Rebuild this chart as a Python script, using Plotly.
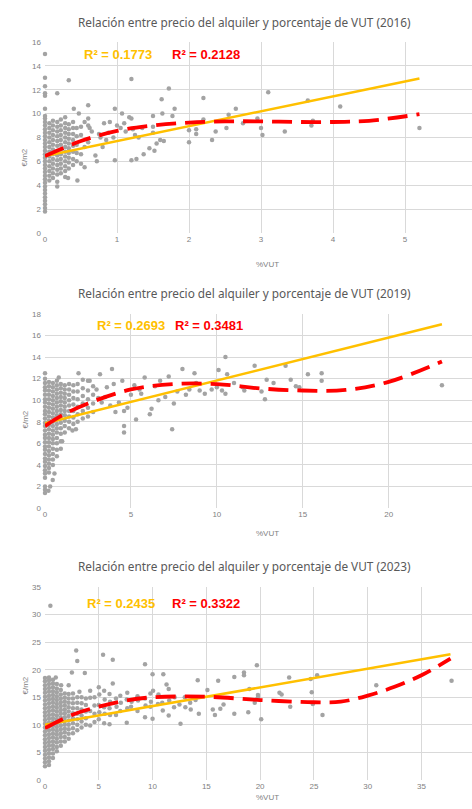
import plotly.graph_objects as go

W, H = 472, 809

# ---------------- data ----------------
titles = ["Relación entre precio del alquiler y porcentaje de VUT (2016)",
          "Relación entre precio del alquiler y porcentaje de VUT (2019)",
          "Relación entre precio del alquiler y porcentaje de VUT (2023)"]
r2_linear = ["0.1773", "0.2693", "0.2435"]
r2_poly = ["0.2128", "0.3481", "0.3322"]

# dense clusters near x = 0, read as columns (x, [y values])
cluster_2016 = [
    (0.0, [1.8,2.1,2.4,2.7,3.0,3.3,3.6,3.9,4.2,4.5,4.8,5.1,5.4,5.7,6.0,6.3,6.6,6.9,7.2,7.5,7.8,
           8.1,8.4,8.7,9.0,9.3,9.6,9.8,10.4,11.5,11.7,12.3,13.0,15.0]),
    (0.06, [4.4,4.8,5.2,5.6,6.0,6.4,6.8,7.2,7.6,8.0,8.4,8.8,9.2]),
    (0.11, [4.6,5.0,5.4,5.8,6.2,6.6,7.0,7.4,7.8,8.2,8.6,9.0,9.4]),
    (0.17, [3.9,4.3,4.9,5.3,5.7,6.1,6.5,6.9,7.3,7.7,8.1,8.5,8.9,9.3]),
    (0.22, [5.0,5.4,5.8,6.2,6.6,7.0,7.4,7.8,8.2,8.6,9.0,9.5]),
    (0.28, [4.7,5.2,5.6,6.0,6.4,6.8,7.2,7.6,8.0,8.4,8.8,9.2,9.7]),
    (0.33, [5.4,5.9,6.3,6.7,7.1,7.5,7.9,8.3,8.7,9.1]),
    (0.39, [5.7,6.2,6.8,7.3,7.8,8.3,8.8,9.3]),
    (0.44, [6.0,6.7,7.4,8.1,8.8]),
]
pts_2016 = [
    (0.5,8.9),(0.5,8.2),(0.5,6.6),(0.5,5.8),(0.55,5.5),(0.55,9.3),(0.6,9.6),(0.6,9.0),
    (0.6,7.6),(0.65,8.5),(0.7,6.5),(0.72,6.0),(0.75,8.3),(0.8,7.2),(0.85,7.8),(0.82,9.2),
    (0.9,9.3),(0.95,8.0),(0.77,8.0),(0.62,8.8),(0.55,7.2),(0.45,4.4),(0.32,4.6),
    (0.17,11.7),(0.33,12.8),(0.4,10.4),(0.47,10.0),(0.6,10.7),(1.2,12.9),(0.97,10.4),
    (1.07,10.0),(1.17,9.7),(1.2,9.6),(1.62,11.2),(1.72,12.1),(1.8,10.4),(1.77,9.8),
    (1.5,9.8),(1.63,10.0),(2.2,11.3),(2.65,10.4),(2.55,9.9),(2.0,8.6),(2.0,7.6),
    (2.1,8.3),(2.1,8.7),(2.2,9.5),(2.32,7.8),(2.37,8.5),(2.52,8.8),(2.75,9.2),(2.95,9.6),
    (3.0,8.8),(3.02,8.2),(3.1,11.8),(3.33,8.5),(3.65,11.1),(3.7,9.0),(3.72,9.4),
    (4.1,10.6),(5.2,8.8),(1.37,6.6),(1.45,7.1),(1.52,6.9),(1.27,6.2),(1.2,6.1),(0.97,6.1),
    (1.55,7.5),(1.6,7.8),(1.65,7.7),(1.0,9.0),(1.05,8.8),(1.12,8.5),(1.22,8.7),(1.25,8.2),
    (1.3,8.0),(1.5,8.4),(1.5,8.9),(1.35,8.8),(1.1,9.2),(0.88,8.4),
]

cluster_2019 = [
    (0.0, [1.4,1.7,2.0,2.8,3.2,3.5,3.9,4.3,4.6,5.0,5.4,5.7,6.1,6.5,6.8,7.2,7.6,7.9,8.3,8.7,9.0,
           9.4,9.8,10.1,10.5,10.9,11.2,11.6,12.0,12.5]),
    (0.23, [3.3,3.7,4.1,4.5,4.9,5.3,5.7,6.1,6.5,6.9,7.3,7.7,8.1,8.5,8.9,9.3,9.7,10.1,10.5,10.9,
            11.3,11.7]),
    (0.46, [4.0,4.5,5.0,5.5,6.0,6.4,6.8,7.2,7.6,8.0,8.4,8.8,9.2,9.6,10.0,10.4,10.8,11.2,11.6]),
    (0.69, [4.8,5.4,6.0,6.5,7.0,7.4,7.8,8.2,8.6,9.0,9.4,9.8,10.2,10.6,11.0,11.4,11.8]),
    (0.92, [5.5,6.2,6.9,7.4,7.9,8.3,8.7,9.1,9.5,9.9,10.3,10.7,11.1,11.5]),
    (1.15, [7.0,7.6,8.1,8.6,9.0,9.4,9.8,10.2,10.6,11.0,11.4]),
    (1.4, [7.4,8.0,8.5,9.0,9.5,10.0,10.5,11.0,11.5]),
    (1.65, [7.8,8.4,9.0,9.6,10.2,10.8,11.4]),
    (1.9, [8.0,8.7,9.4,10.1,10.8,11.5]),
    (2.2, [8.3,9.0,9.7,10.4,11.1]),
    (2.5, [8.5,9.3,10.1,10.9]),
    (2.8, [8.9,9.7,10.5,11.3]),
]
pts_2019 = [
    (0.2,1.6),(0.3,2.0),(0.45,2.6),(0.55,3.2),(0.8,12.1),(1.0,6.2),
    (1.95,12.5),(3.2,12.4),(3.9,12.9),(4.6,7.6),(4.6,7.0),(5.3,8.2),(5.8,12.1),(6.1,8.7),
    (6.2,9.2),(7.4,7.3),(7.5,9.7),(8.0,12.9),(8.7,12.5),(9.3,10.6),(10.1,12.8),(10.5,14.0),
    (10.6,12.4),(10.5,10.6),(12.2,13.2),(12.8,10.1),(12.9,11.9),(13.3,11.6),(14.0,13.2),
    (14.3,11.9),(14.6,11.3),(14.8,11.2),(15.3,12.4),(16.1,12.5),(16.1,11.8),(23.1,11.4),
    (9.0,10.9),(8.8,11.6),(9.7,11.0),(10.0,11.2),(10.3,10.9),(11.5,11.2),(11.6,10.9),
    (12.6,10.8),(11.0,11.6),(6.7,11.8),(7.2,12.2),(7.0,10.3),(6.6,10.0),(7.7,10.8),
    (8.2,10.5),(8.4,11.0),(5.5,11.0),(5.2,11.4),(5.0,10.5),(4.8,9.3),(4.6,9.0),(4.3,9.8),
    (4.1,8.9),(3.8,9.5),(3.5,10.3),(3.3,9.8),(3.0,11.0),(3.1,10.2),(2.5,11.8),(2.2,11.9),
    (1.8,7.3),(1.6,7.2),(4.0,11.5),(4.5,11.8),(5.6,10.6),(6.4,11.3),(3.6,11.2),(2.6,11.8),
]

cluster_2023 = [
    (0.0, [2.5,3.2,3.9,4.6,5.3,6.0,6.7,7.4,8.1,8.8,9.5,10.2,10.9,11.6,12.3,13.0,13.7,14.4,15.1,
           15.8,16.5,17.2,17.9,18.5]),
    (0.37, [2.7,3.4,4.1,4.8,5.5,6.2,6.9,7.6,8.3,9.0,9.7,10.4,11.1,11.8,12.5,13.2,13.9,14.6,
            15.3,16.0,16.7,17.4,18.1,18.6]),
    (0.74, [4.0,4.8,5.6,6.3,7.0,7.7,8.4,9.1,9.8,10.5,11.2,11.9,12.6,13.3,14.0,14.7,15.4,16.1,
            16.8,17.5,18.2]),
    (1.1, [5.2,6.0,6.8,7.5,8.2,8.9,9.6,10.3,11.0,11.7,12.4,13.1,13.8,14.5,15.2,15.9,16.6,17.4]),
    (1.47, [6.2,7.0,7.8,8.5,9.2,9.9,10.6,11.3,12.0,12.7,13.4,14.1,14.8,15.5,16.3]),
    (1.84, [7.0,7.8,8.6,9.3,10.0,10.7,11.4,12.1,12.8,13.5,14.2,14.9,15.7]),
    (2.2, [7.5,8.4,9.2,10.0,10.8,11.6,12.4,13.2,14.0,14.8,15.6]),
    (2.6, [8.5,9.4,10.3,11.2,12.1,13.0,13.9,14.8,15.7]),
    (3.0, [9.0,10.0,11.0,12.0,13.0,14.0,15.0]),
    (3.4, [9.5,10.6,11.7,12.8,13.9,15.0]),
    (3.8, [10.0,11.2,12.4,13.6,14.8]),
]
pts_2023 = [
    (4.2,9.9),(4.2,12.5),(4.2,14.9),(4.2,16.2),(4.6,10.5),(4.6,12.0),(4.6,13.5),(4.6,15.0),
    (5.0,11.0),(5.05,12.3),(5.0,13.6),(5.05,15.5),(5.0,16.8),
    (5.5,10.3),(5.55,12.0),(5.5,13.2),(5.55,14.6),(5.5,16.2),
    (6.0,10.1),(6.05,11.8),(6.0,13.0),(6.05,14.2),(6.0,15.6),(6.3,17.5),
    (6.6,11.8),(6.65,13.3),(6.6,14.8),(7.0,12.5),(7.05,14.0),(7.0,15.3),
    (7.6,10.4),(7.65,13.0),(7.6,14.6),(7.65,15.8),(8.0,13.3),(8.05,14.2),
    (8.6,12.5),(8.65,14.4),(8.6,15.2),(9.3,11.4),(9.35,13.5),(9.3,14.8),
    (9.8,13.3),(9.85,14.2),(9.8,15.7),(10.0,11.1),(10.05,16.2),(10.5,13.8),(10.55,15.5),
    (10.9,14.0),(10.95,12.6),(11.5,11.7),(11.55,14.4),(11.5,16.5),(12.0,13.2),(12.05,15.0),
    (12.5,13.7),(13.0,15.0),(13.05,13.2),(13.5,14.0),(13.55,12.8),(14.0,14.5),
    (0.5,31.6),(2.9,23.5),(3.0,21.6),(2.5,19.5),(3.7,19.4),(5.4,22.7),(6.3,21.8),(9.3,21.0),
    (10.0,19.2),(11.0,19.2),(11.3,17.3),(12.6,10.2),(14.2,18.1),(14.3,12.0),(15.1,16.3),
    (16.1,18.0),(15.6,12.8),(15.8,11.8),(16.3,12.9),(16.6,13.7),(17.6,18.7),(17.6,12.0),
    (18.5,19.5),(18.5,19.0),(18.9,12.3),(19.0,16.5),(19.7,20.8),(19.5,14.0),(19.8,15.4),
    (19.8,15.0),(20.1,11.0),(21.8,15.8),(22.0,15.5),(22.7,18.6),(22.8,13.3),(24.7,18.3),
    (24.8,15.9),(24.9,13.8),(25.3,19.0),(25.8,11.8),(30.8,17.2),(37.8,18.0),
    (2.2,17.2),(1.0,18.6),(3.2,16.0),(1.5,17.2),
]

# linear trend endpoints and polynomial trend points
lin_2016_x = [0, 5.2];   lin_2016_y = [6.45, 12.95]
pol_2016_x = [0, 0.5, 1.0, 1.5, 2.0, 2.5, 3.0, 3.5, 4.0, 4.5, 5.2]
pol_2016_y = [6.45, 7.7, 8.55, 9.0, 9.25, 9.35, 9.35, 9.3, 9.3, 9.4, 9.95]

lin_2019_x = [0, 23.1];  lin_2019_y = [7.85, 17.05]
pol_2019_x = [0, 1, 2.5, 5, 7.5, 10, 12.5, 15, 17.5, 20, 23.1]
pol_2019_y = [7.6, 8.6, 9.7, 11.0, 11.5, 11.5, 11.1, 10.9, 10.95, 11.7, 13.6]

lin_2023_x = [0, 37.7];  lin_2023_y = [10.0, 22.8]
pol_2023_x = [0, 2.5, 5, 7.5, 10, 15, 20, 25, 27.5, 30, 32.5, 35, 37.7]
pol_2023_y = [9.4, 11.8, 13.3, 14.4, 15.0, 15.1, 14.5, 14.1, 14.2, 15.3, 16.9, 19.0, 22.0]

x_ranges = [[0, 5.93], [0, 24.85], [0, 39.7]]
y_ranges = [[0, 16], [0, 18], [0, 35]]
x_dticks = [1, 5, 5]
y_dticks = [2, 2, 5]

# ---------------- layout geometry (pixels) ----------------
plot_left = 45
plot_tops = [42, 314, 587]
plot_bottoms = [233, 508, 780]
title_y = [22, 293, 566]
r2_y = [54, 325, 603]
r2_lin_x = [82, 95, 85]
r2_pol_x = [170, 173, 170]
ytitle_y = [147, 420, 697]
xtitle_y = [258, 533, 804]

def fx(px): return px / W
def fy(py): return 1 - py / H

GRAY_PT = "#a3a3a3"
YEL = "#FFC000"
RED = "#FF0000"
GRID = "#d9d9d9"
TXT = "#7f7f7f"

def flatten(cluster, pts):
    xs, ys = [], []
    for cx, cys in cluster:
        for v in cys:
            xs.append(cx); ys.append(v)
    for px_, py_ in pts:
        xs.append(px_); ys.append(py_)
    return xs, ys

fig = go.Figure()
data_sets = [
    (cluster_2016, pts_2016, lin_2016_x, lin_2016_y, pol_2016_x, pol_2016_y),
    (cluster_2019, pts_2019, lin_2019_x, lin_2019_y, pol_2019_x, pol_2019_y),
    (cluster_2023, pts_2023, lin_2023_x, lin_2023_y, pol_2023_x, pol_2023_y),
]
annotations = []
for i, (cl, pts, lx, ly, qx, qy) in enumerate(data_sets):
    xa = "x" if i == 0 else f"x{i+1}"
    ya = "y" if i == 0 else f"y{i+1}"
    sx, sy = flatten(cl, pts)
    fig.add_trace(go.Scatter(x=sx, y=sy, mode="markers",
                             marker=dict(color=GRAY_PT, size=4.5), xaxis=xa, yaxis=ya,
                             showlegend=False, cliponaxis=False))
    fig.add_trace(go.Scatter(x=lx, y=ly, mode="lines", line=dict(color=YEL, width=2.5),
                             xaxis=xa, yaxis=ya, showlegend=False))
    fig.add_trace(go.Scatter(x=qx, y=qy, mode="lines", line=dict(color=RED, width=3.8,
                             dash="20px,9px", shape="spline", smoothing=1.0),
                             xaxis=xa, yaxis=ya, showlegend=False))
    axis_common = dict(showgrid=True, gridcolor=GRID, gridwidth=1, zeroline=False,
                       showline=False, ticks="", automargin=False,
                       tickfont=dict(size=8, color=TXT, family="Liberation Sans"))
    fig.layout[("xaxis" if i == 0 else f"xaxis{i+1}")] = dict(
        domain=[fx(plot_left), 1], anchor=ya, range=x_ranges[i], dtick=x_dticks[i],
        tick0=0, **axis_common)
    fig.layout[("yaxis" if i == 0 else f"yaxis{i+1}")] = dict(
        domain=[fy(plot_bottoms[i]), fy(plot_tops[i])], anchor=xa, range=y_ranges[i],
        dtick=y_dticks[i], tick0=0, ticklabelstandoff=3, **axis_common)
    annotations.append(dict(text=titles[i], x=fx(245), y=fy(title_y[i]), xref="paper",
                            yref="paper", showarrow=False, xanchor="center", yanchor="middle",
                            font=dict(size=11.8, color="#595959", family="Noto Sans")))
    annotations.append(dict(text=f"<b>R² = {r2_linear[i]}</b>", x=fx(r2_lin_x[i]),
                            y=fy(r2_y[i]), xref="paper", yref="paper", showarrow=False,
                            xanchor="left", yanchor="middle",
                            font=dict(size=13, color=YEL, family="Liberation Sans")))
    annotations.append(dict(text=f"<b>R² = {r2_poly[i]}</b>", x=fx(r2_pol_x[i]),
                            y=fy(r2_y[i]), xref="paper", yref="paper", showarrow=False,
                            xanchor="left", yanchor="middle",
                            font=dict(size=13, color=RED, family="Liberation Sans")))
    annotations.append(dict(text="€/m2", x=fx(18), y=fy(ytitle_y[i]), xref="paper",
                            yref="paper", showarrow=False, textangle=-90,
                            font=dict(size=8, color=TXT, family="Liberation Sans")))
    annotations.append(dict(text="%VUT", x=fx(267), y=fy(xtitle_y[i]), xref="paper",
                            yref="paper", showarrow=False,
                            font=dict(size=8, color=TXT, family="Liberation Sans")))

fig.update_layout(width=W, height=H, margin=dict(l=0, r=0, t=0, b=0),
                  paper_bgcolor="white", plot_bgcolor="white", annotations=annotations)
fig.write_html("out.html", config={"displayModeBar": False},
               post_script="document.body.style.margin='0';document.body.style.overflow='hidden';")
